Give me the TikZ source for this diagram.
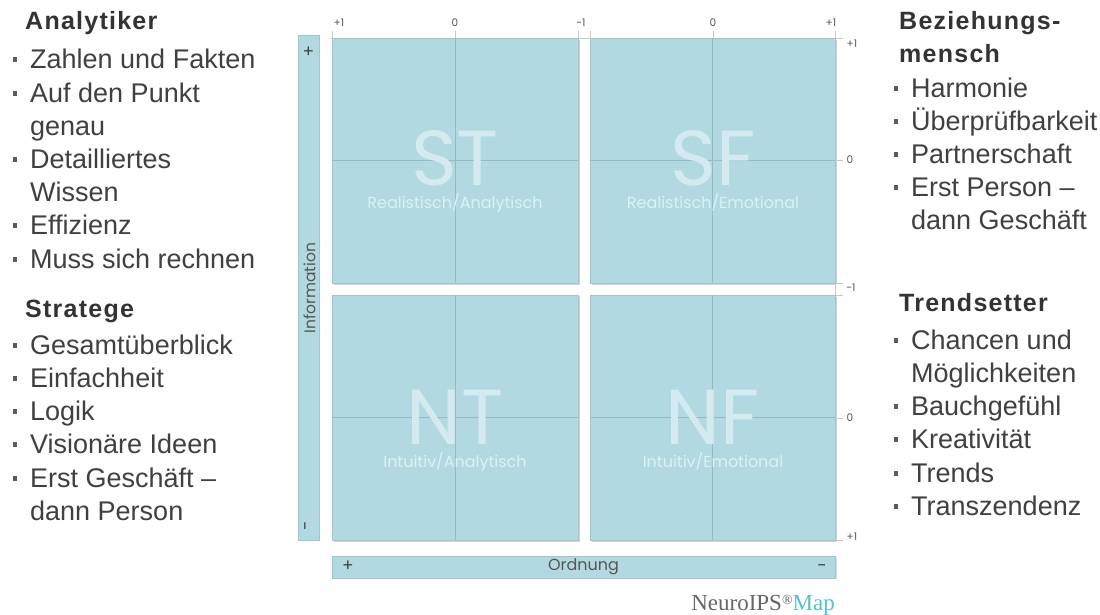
\documentclass[tikz,border=0pt]{standalone}
\usepackage{fontspec}
\setmainfont{Liberation Sans}
\newfontfamily\pop{Poppins}
\newfontfamily\serifF{Liberation Serif}
\newfontfamily\headF[LetterSpace=5]{Liberation Sans Bold}
\definecolor{quad}{HTML}{B2D9E1}
\definecolor{quadline}{HTML}{93BBC4}
\definecolor{quadedge}{HTML}{A3C6CE}
\definecolor{bigtxt}{HTML}{D3EBF0}
\definecolor{subtxt}{HTML}{DDF0F4}
\definecolor{txt}{HTML}{404040}
\definecolor{headc}{HTML}{333333}
\definecolor{axis}{HTML}{555555}
\definecolor{bullc}{HTML}{5A5A5A}
\definecolor{tick}{HTML}{C8C8C8}
\definecolor{mapc}{HTML}{52C2D2}
\tikzset{
  quadbox/.style={fill=quad, draw=quadedge, line width=0.8pt, inner sep=0pt},
  barbox/.style={fill=quad, draw=quadedge, line width=0.6pt, inner sep=0pt},
  bigl/.style={font=\pop\fontsize{78}{78}\selectfont, text=bigtxt, inner sep=0pt, anchor=base, text depth=0pt},
  subl/.style={font=\pop\fontsize{16}{17}\selectfont, text=subtxt, inner sep=0pt, anchor=base},
  ticklbl/.style={font=\pop\fontsize{10.5}{11}\selectfont, text=axis, inner sep=0pt},
  barlbl/.style={font=\pop\fontsize{16}{17}\selectfont, text=axis, inner sep=0pt},
  signlbl/.style={font=\pop\fontsize{17}{17}\selectfont, text=axis!80!black, inner sep=0pt},
  listtxt/.style={font=\fontsize{27}{30}\selectfont, text=txt, anchor=base west, inner sep=0pt},
  headtxt/.style={font=\headF\fontsize{25}{28}\selectfont, text=headc, anchor=base west, inner sep=0pt},
  cline/.style={draw=quadline, line width=0.7pt},
  tickline/.style={draw=tick, line width=0.7pt}
}
\newcommand{\bitem}[4]{%
  \fill[bullc] (#2-17.1,#3-1.9) rectangle ++(4.4,4.4);
  \node[listtxt] (#1) at (#2,#3+9.6) {#4};}
\newcommand{\citem}[4]{%
  \node[listtxt] (#1) at (#2,#3+9.6) {#4};}
\newcommand{\hitem}[4]{%
  \node[headtxt] (#1) at (#2,#3+9) {#4};}
\begin{document}
\begin{tikzpicture}[x=1pt,y=-1pt]
\useasboundingbox (0,0) rectangle (1100,614);
\fill[white] (0,0) rectangle (1100,614);
% top axis
\draw[tickline] (330,38) -- (838,38);
\foreach \xx in {332,455,578,590,713,835} \draw[tickline] (\xx,31) -- (\xx,38);
\node[ticklbl] (t1) at (339,23) {+1};
\node[ticklbl] (t2) at (455,23) {0};
\node[ticklbl] (t3) at (581,23) {-1};
\node[ticklbl] (t4) at (713,23) {0};
\node[ticklbl] (t5) at (831,23) {+1};
% right axis
\draw[tickline] (835,38) -- (835,540);
\foreach \yy in {38,160,283,295,418,540} \draw[tickline] (835,\yy) -- (843,\yy);
\node[ticklbl] (r1) at (852,44) {+1};
\node[ticklbl] (r2) at (850,160) {0};
\node[ticklbl] (r3) at (851,288) {-1};
\node[ticklbl] (r4) at (850,418) {0};
\node[ticklbl] (r5) at (852,537) {+1};
% quadrants
\fill[black!18] (333.5,39.5) rectangle (579.5,284.5);
\fill[black!18] (591.5,39.5) rectangle (836.5,284.5);
\fill[black!18] (333.5,296.5) rectangle (579.5,541.5);
\fill[black!18] (591.5,296.5) rectangle (836.5,541.5);
\node[quadbox, minimum width=246pt, minimum height=245pt] (st) at (455,160.5) {};
\node[quadbox, minimum width=245pt, minimum height=245pt] (sf) at (712.5,160.5) {};
\node[quadbox, minimum width=246pt, minimum height=245pt] (nt) at (455,417.5) {};
\node[quadbox, minimum width=245pt, minimum height=245pt] (nf) at (712.5,417.5) {};
\foreach \q in {st,sf,nt,nf}{
  \draw[cline] (\q.north) -- (\q.south);
  \draw[cline] (\q.west) -- (\q.east);
}
\node[bigl] (stl) at (455,185) {ST};
\node[subl] (sts) at (455,208) {Realistisch/Analytisch};
\node[bigl] (sfl) at (713,185) {SF};
\node[subl] (sfs) at (713,208) {Realistisch/Emotional};
\node[bigl] (ntl) at (455,444) {NT};
\node[subl] (nts) at (455,467) {Intuitiv/Analytisch};
\node[bigl] (nfl) at (713,444) {NF};
\node[subl] (nfs) at (713,467) {Intuitiv/Emotional};
% left bar
\fill[black!15] (298.8,36) rectangle (319.8,541);
\node[barbox, minimum width=21pt, minimum height=505pt] (info) at (308.5,288) {};
\node[signlbl] (ip) at (308.5,52) {+};
\node[signlbl, rotate=90] (im) at (308.5,526) {-};
\node[barlbl, font=\pop\fontsize{15.5}{16}\selectfont, rotate=90] (infot) at (309.5,288) {Information};
% bottom bar
\fill[black!15] (333,557) rectangle (837,579);
\node[barbox, minimum width=503pt, minimum height=22pt] (ord) at (583.5,567) {};
\node[signlbl] (op) at (348,566) {+};
\node[signlbl] (om) at (822,568.5) {-};
\node[barlbl] (ordt) at (583.5,567) {Ordnung};
% logo
\node[anchor=base east, inner sep=0pt, font=\serifF\fontsize{23}{24}\selectfont] (logo) at (835,610)
  {\textcolor{axis!90}{NeuroIPS\raisebox{6pt}{\fontsize{14}{14}\selectfont\textregistered}}\textcolor{mapc}{Map}};
% left lists
\hitem{h1}{25}{20}{Analytiker}
\bitem{a1}{30}{59}{Zahlen und Fakten}
\bitem{a2}{30}{93}{Auf den Punkt}
\citem{a2b}{30}{126}{genau}
\bitem{a3}{30}{159}{Detailliertes}
\citem{a3b}{30}{192}{Wissen}
\bitem{a4}{30}{225}{Effizienz}
\bitem{a5}{30}{259}{Muss sich rechnen}
\hitem{h2}{25}{308}{Stratege}
\bitem{s1}{30}{345}{Gesamtüberblick}
\bitem{s2}{30}{378}{Einfachheit}
\bitem{s3}{30}{411}{Logik}
\bitem{s4}{30}{444}{Visionäre Ideen}
\bitem{s5}{30}{478}{Erst Geschäft –}
\citem{s5b}{30}{511}{dann Person}
% right lists
\hitem{h3}{899}{20}{Beziehungs-}
\hitem{h3b}{899}{53}{mensch}
\bitem{b1}{911}{88}{Harmonie}
\bitem{b2}{911}{121}{Überprüfbarkeit}
\bitem{b3}{911}{154}{Partnerschaft}
\bitem{b4}{911}{187}{Erst Person –}
\citem{b4b}{911}{220}{dann Geschäft}
\hitem{h4}{899}{302}{Trendsetter}
\bitem{c1}{911}{340}{Chancen und}
\citem{c1b}{911}{373}{Möglichkeiten}
\bitem{c2}{911}{406}{Bauchgefühl}
\bitem{c3}{911}{439}{Kreativität}
\bitem{c4}{911}{473}{Trends}
\bitem{c5}{911}{506}{Transzendenz}
\end{tikzpicture}
\end{document}
